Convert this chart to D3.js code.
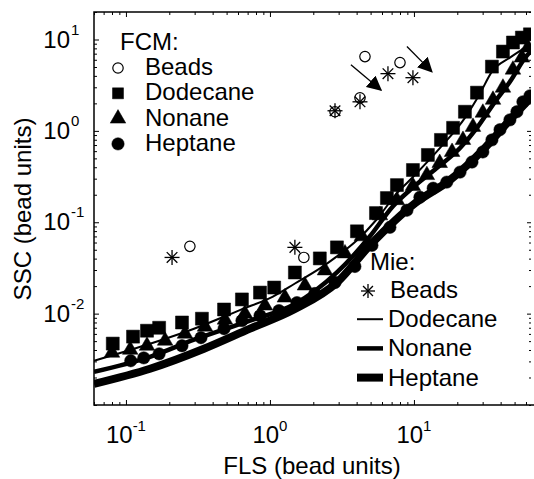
<!DOCTYPE html>
<html lang="en">
<head>
<meta charset="utf-8">
<title>FCM vs Mie</title>
<style type="text/css">
    body { margin: 0; background: #fff; }
    text { font-family: Arial, "Liberation Sans", Helvetica, sans-serif; fill: #000; }
</style>
</head>
<body>
<script src="https://cdn.jsdelivr.net/npm/d3@7"></script>
<script>

    var w = 534;
    var h = 479;

    // axis ranges (bead units)
    var xDomain = [0.06, 65];
    var yDomain = [0.001, 20];
    var xMajor = [0.1, 1, 10];
    var xExp = ["-1", "0", "1"];
    var yMajor = [0.01, 0.1, 1, 10];
    var yExp = ["-2", "-1", "0", "1"];

    // FCM measurements [FLS, SSC]
    var fcmBeads = [[0.278,0.0545],[1.72,0.0412],[2.83,1.62],[4.22,2.3],[4.57,6.5],[8.0,5.59]];
    var fcmDodecane = [[0.081,0.0047],[0.112,0.0056],[0.140,0.0065],[0.170,0.0070],[0.245,0.0080],
        [0.337,0.0088],[0.480,0.0111],[0.639,0.0143],[0.853,0.0170],[1.07,0.0193],[1.49,0.0282],
        [2.22,0.0402],[2.92,0.0531],[4.02,0.0796],[5.45,0.126],[6.49,0.184],[7.62,0.255],[9.84,0.373],
        [12.5,0.545],[15.4,0.796],[18.7,1.08],[22.6,1.62],[27.4,2.62],[34.8,5.05],[41.5,7.38],
        [48.7,9.27],[56.2,10.5],[63.9,11.4]];
    var fcmNonane = [[0.080,0.00373],[0.107,0.00402],[0.140,0.00445],[0.187,0.00505],[0.257,0.00603],
        [0.354,0.0072],[0.487,0.00859],[0.670,0.0100],[0.923,0.01225],[1.27,0.0150],[1.75,0.0203],
        [2.41,0.0297],[3.32,0.0456],[4.35,0.0702],[5.81,0.119],[7.62,0.1745],[9.84,0.249],[12.3,0.328],
        [15.1,0.445],[18.4,0.588],[21.9,0.796],[25.7,1.106],[30.1,1.58],[35.4,2.19],[41.5,2.97],
        [48.7,4.68],[56.2,6.34],[61.9,8.17]];
    var fcmHeptane = [[0.108,0.00305],[0.133,0.00328],[0.170,0.00363],[0.245,0.00445],[0.332,0.00545],
        [0.480,0.00684],[0.639,0.00838],[0.853,0.0095],[1.155,0.0108],[1.54,0.0132],[2.05,0.0166],
        [2.83,0.0219],[3.89,0.0328],[5.11,0.0559],[6.81,0.0881],[8.94,0.1355],[11.0,0.188],[13.6,0.236],
        [16.9,0.275],[20.9,0.354],[25.3,0.456],[30.1,0.588],[34.8,0.796],[39.6,1.03],[46.4,1.32],
        [51.9,1.62],[57.1,2.08],[63.9,2.42]];

    // Mie calculations
    var mieBeads = [[0.209,0.0412],[1.49,0.0531],[2.83,1.66],[4.22,2.08],[6.6,4.23],[9.84,3.82]];
    var mieDodecane = [[0.06,0.00305],[0.147,0.00468],[0.297,0.00684],[0.629,0.01107],[1.049,0.01538],
        [1.492,0.02137],[2.224,0.03124],[2.918,0.04229],[4.02,0.0634],[5.45,0.1052],[7.62,0.2084],
        [9.84,0.3124],[15.4,0.667],[22.6,1.39],[28.7,2.55],[34.8,4.45],[46.4,6.34],[63.9,8.81]];
    var mieNonane = [[0.06,0.00231],[0.147,0.00337],[0.297,0.00518],[0.727,0.00838],[1.468,0.01256],
        [2.918,0.0282],[4.95,0.0702],[7.15,0.150],[9.38,0.225],[14.4,0.392],[20.9,0.650],[27.4,1.08],
        [36.5,2.08],[46.4,3.45],[60.9,6.67],[64.9,7.38]];
    var mieHeptane = [[0.06,0.00170],[0.147,0.00249],[0.348,0.00412],[0.727,0.00684],[1.468,0.01107],
        [2.918,0.0219],[4.95,0.0559],[10.2,0.162],[17.8,0.290],[30.1,0.618],[46.4,1.32],[64.9,2.31]];

    // the two shift arrows [from, to]
    var arrows = [[[3.65,5.3],[5.9,2.8]], [[8.94,8.4],[13.3,4.45]]];

    var fcmLabels = ["Beads", "Dodecane", "Nonane", "Heptane"];
    var mieLabels = ["Beads", "Dodecane", "Nonane", "Heptane"];

    var svg = d3.select("body")
            .append("svg")
            .attr("width", w)
            .attr("height", h);

    var pLeft = 94, pRight = 531, pTop = 12, pBottom = 405;

    var x = d3.scaleLog().domain(xDomain).range([pLeft, pRight]);
    var y = d3.scaleLog().domain(yDomain).range([pBottom, pTop]);

    svg.append("clipPath").attr("id", "clip")
        .append("rect").attr("x", pLeft).attr("y", pTop)
        .attr("width", pRight - pLeft).attr("height", pBottom - pTop);

    // ticks, all pointing inwards
    var xMinor = x.ticks().filter(function(d){ return xMajor.indexOf(d) < 0; });
    var yMinor = y.ticks().filter(function(d){ return yMajor.indexOf(d) < 0; });

    function tickAxis(axis, tr, vals, size) {
        var g = svg.append("g").attr("transform", tr)
            .call(axis.tickValues(vals).tickSize(size).tickFormat(""));
        g.select(".domain").remove();
        g.selectAll("line").attr("stroke", "#000").attr("stroke-width", 1);
        return g;
    }
    tickAxis(d3.axisBottom(x), "translate(0," + pBottom + ")", xMinor, -3);
    tickAxis(d3.axisBottom(x), "translate(0," + pBottom + ")", xMajor, -5);
    tickAxis(d3.axisTop(x), "translate(0," + pTop + ")", xMinor, -3);
    tickAxis(d3.axisTop(x), "translate(0," + pTop + ")", xMajor, -5);
    tickAxis(d3.axisLeft(y), "translate(" + pLeft + ",0)", yMinor, -3);
    tickAxis(d3.axisLeft(y), "translate(" + pLeft + ",0)", yMajor, -5);
    tickAxis(d3.axisRight(y), "translate(" + pRight + ",0)", yMinor, -2);
    tickAxis(d3.axisRight(y), "translate(" + pRight + ",0)", yMajor, -4);

    // frame (right edge is lost in the original scan, only ticks show)
    svg.append("path")
        .attr("d", "M" + pRight + "," + pTop + "H" + pLeft + "V" + pBottom + "H" + (pRight + 3))
        .attr("fill", "none").attr("stroke", "#000").attr("stroke-width", 1.5);

    // tick labels
    svg.selectAll(".xlab").data(xMajor).enter()
        .append("text").attr("class", "xlab")
        .attr("x", function(d){ return x(d); })
        .attr("y", 443)
        .attr("text-anchor", "middle")
        .attr("font-size", 24)
        .each(function(d, i){
            var t = d3.select(this);
            t.append("tspan").text("10");
            t.append("tspan").attr("dy", -12).attr("font-size", 15).text(xExp[i]);
        });

    svg.selectAll(".ylab").data(yMajor).enter()
        .append("text").attr("class", "ylab")
        .attr("x", 70)
        .attr("y", function(d){ return y(d) + 8; })
        .attr("text-anchor", "end")
        .attr("font-size", 24)
        .text("10");
    svg.selectAll(".yexp").data(yMajor).enter()
        .append("text").attr("class", "yexp")
        .attr("x", 71)
        .attr("y", function(d){ return y(d) - 5; })
        .attr("font-size", 15)
        .text(function(d, i){ return yExp[i]; });

    // axis titles
    svg.append("text")
        .attr("x", 312).attr("y", 474)
        .attr("text-anchor", "middle")
        .attr("font-size", 24)
        .text("FLS (bead units)");
    svg.append("text")
        .attr("transform", "translate(31,209) rotate(-90)")
        .attr("text-anchor", "middle")
        .attr("font-size", 24)
        .text("SSC (bead units)");

    var plot = svg.append("g").attr("clip-path", "url(#clip)");

    var line = d3.line()
        .x(function(d){ return x(d[0]); })
        .y(function(d){ return y(d[1]); })
        .curve(d3.curveMonotoneX);

    // Mie curves
    plot.append("path").datum(mieHeptane).attr("d", line)
        .attr("fill", "none").attr("stroke", "#000").attr("stroke-width", 8);
    plot.append("path").datum(mieNonane).attr("d", line)
        .attr("fill", "none").attr("stroke", "#000").attr("stroke-width", 4.5);
    plot.append("path").datum(mieDodecane).attr("d", line)
        .attr("fill", "none").attr("stroke", "#000").attr("stroke-width", 2);

    // FCM markers
    var sq = d3.symbol().type(d3.symbolSquare).size(169);
    var tri = d3.symbol().type(d3.symbolTriangle).size(105);
    var dot = d3.symbol().type(d3.symbolCircle).size(120);
    var ring = d3.symbol().type(d3.symbolCircle).size(85);

    function markers(data, sym, fill) {
        plot.selectAll(null).data(data).enter()
            .append("path")
            .attr("transform", function(d){ return "translate(" + x(d[0]) + "," + y(d[1]) + ")"; })
            .attr("d", sym)
            .attr("fill", fill ? "#000" : "#fff")
            .attr("stroke", "#000")
            .attr("stroke-width", fill ? 0.5 : 1.2);
    }
    markers(fcmHeptane, dot, true);
    markers(fcmNonane, tri, true);
    markers(fcmDodecane, sq, true);
    markers(fcmBeads, ring, false);

    // asterisk markers for Mie beads (8 arms)
    function asterisk(g, cx, cy, r) {
        for (var k = 0; k < 4; k++) {
            var a = k * Math.PI / 4;
            g.append("line")
                .attr("x1", cx - r * Math.cos(a)).attr("y1", cy - r * Math.sin(a))
                .attr("x2", cx + r * Math.cos(a)).attr("y2", cy + r * Math.sin(a))
                .attr("stroke", "#000").attr("stroke-width", 1.3);
        }
    }
    mieBeads.forEach(function(d){ asterisk(plot, x(d[0]), y(d[1]), 7.5); });

    // arrows
    svg.append("defs").append("marker")
        .attr("id", "head")
        .attr("viewBox", "0 0 10 10")
        .attr("refX", 9).attr("refY", 5)
        .attr("markerWidth", 15).attr("markerHeight", 15)
        .attr("markerUnits", "userSpaceOnUse")
        .attr("orient", "auto")
        .append("path").attr("d", "M0,0L10,5L0,10Z").attr("fill", "#000");
    arrows.forEach(function(a){
        svg.append("line")
            .attr("x1", x(a[0][0])).attr("y1", y(a[0][1]))
            .attr("x2", x(a[1][0])).attr("y2", y(a[1][1]))
            .attr("stroke", "#000").attr("stroke-width", 1.3)
            .attr("marker-end", "url(#head)");
    });

    // FCM legend
    svg.append("text").attr("x", 120).attr("y", 50).attr("font-size", 24).text("FCM:");
    var fcmSyms = [ring, sq, tri, dot];
    fcmLabels.forEach(function(lab, i){
        var yy = 75 + i * 25.3;
        svg.append("path")
            .attr("transform", "translate(118," + (yy - 7) + ")")
            .attr("d", i == 1 ? d3.symbol().type(d3.symbolSquare).size(121)() : fcmSyms[i]())
            .attr("fill", i == 0 ? "#fff" : "#000")
            .attr("stroke", "#000").attr("stroke-width", i == 0 ? 1.2 : 0.5);
        svg.append("text").attr("x", 145).attr("y", yy).attr("font-size", 24).text(lab);
    });

    // Mie legend
    svg.append("text").attr("x", 370).attr("y", 270).attr("font-size", 24).text("Mie:");
    var mieWidths = [0, 2, 4.5, 8];
    mieLabels.forEach(function(lab, i){
        var yy = 298 + i * 29.2;
        if (i == 0) {
            asterisk(svg, 368, yy - 7, 7);
        } else {
            svg.append("line")
                .attr("x1", 357).attr("x2", 383)
                .attr("y1", yy - 8).attr("y2", yy - 8)
                .attr("stroke", "#000").attr("stroke-width", mieWidths[i]);
        }
        svg.append("text").attr("x", i == 0 ? 390 : 388).attr("y", yy).attr("font-size", 24).text(lab);
    });

</script>
</body>
</html>
